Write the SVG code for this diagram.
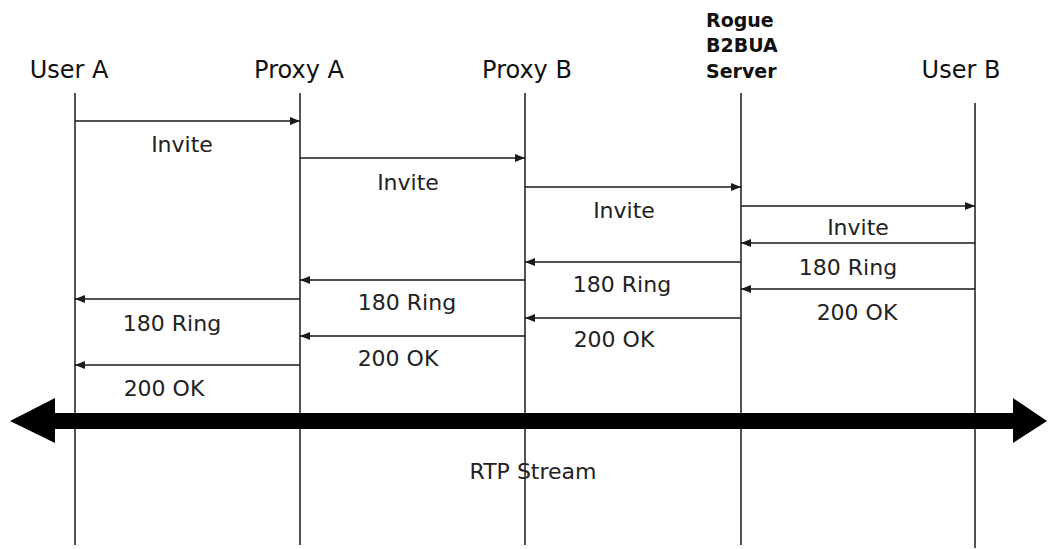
<svg xmlns="http://www.w3.org/2000/svg" width="1048" height="549" viewBox="0 0 1048 549">
  <style>
    .life { stroke: #1a1a1a; stroke-width: 1.5; fill: none; }
    .msg { stroke: #1a1a1a; stroke-width: 1.5; fill: none; marker-end: url(#ah); }
    .hdr { font-family: "DejaVu Sans", sans-serif; font-size: 24px; fill: #111; text-anchor: middle; }
    .bold { font-family: "DejaVu Sans", sans-serif; font-size: 19px; font-weight: bold; fill: #111; }
    .lbl { font-family: "DejaVu Sans", sans-serif; font-size: 22px; fill: #222; text-anchor: middle; }
  </style>
  <defs>
    <marker id="ah" markerUnits="userSpaceOnUse" markerWidth="10" markerHeight="8" refX="10" refY="4" orient="auto">
      <path d="M0,0 L10,4 L0,8 z" fill="#1a1a1a"/>
    </marker>
  </defs>
  <rect width="1048" height="549" fill="#ffffff"/>

  <g id="userA">
    <text class="hdr" x="69" y="78">User A</text>
    <line class="life" x1="75" y1="93" x2="75" y2="545"/>
  </g>
  <g id="proxyA">
    <text class="hdr" x="299" y="78">Proxy A</text>
    <line class="life" x1="300" y1="93" x2="300" y2="545"/>
  </g>
  <g id="proxyB">
    <text class="hdr" x="527" y="78">Proxy B</text>
    <line class="life" x1="525" y1="93" x2="525" y2="545"/>
  </g>
  <g id="rogue">
    <text class="bold" x="706" y="27">Rogue</text>
    <text class="bold" x="706" y="52">B2BUA</text>
    <text class="bold" x="706" y="78">Server</text>
    <line class="life" x1="741" y1="93" x2="741" y2="545"/>
  </g>
  <g id="userB">
    <text class="hdr" x="961" y="78">User B</text>
    <line class="life" x1="975" y1="103" x2="975" y2="548"/>
  </g>

  <g id="connectors">
    <line class="msg" x1="75" y1="121" x2="300" y2="121"/>
    <line class="msg" x1="300" y1="158" x2="525" y2="158"/>
    <line class="msg" x1="525" y1="187" x2="741" y2="187"/>
    <line class="msg" x1="741" y1="206" x2="975" y2="206"/>
    <line class="msg" x1="975" y1="243" x2="741" y2="243"/>
    <line class="msg" x1="741" y1="262" x2="525" y2="262"/>
    <line class="msg" x1="975" y1="289" x2="741" y2="289"/>
    <line class="msg" x1="525" y1="280" x2="300" y2="280"/>
    <line class="msg" x1="300" y1="299" x2="75" y2="299"/>
    <line class="msg" x1="741" y1="318" x2="525" y2="318"/>
    <line class="msg" x1="525" y1="336" x2="300" y2="336"/>
    <line class="msg" x1="300" y1="365" x2="75" y2="365"/>
  </g>

  <g id="labels">
    <text class="lbl" x="182" y="152">Invite</text>
    <text class="lbl" x="408" y="190">Invite</text>
    <text class="lbl" x="624" y="218">Invite</text>
    <text class="lbl" x="858" y="235">Invite</text>
    <text class="lbl" x="848" y="275">180 Ring</text>
    <text class="lbl" x="622" y="292">180 Ring</text>
    <text class="lbl" x="857" y="320">200 OK</text>
    <text class="lbl" x="407" y="310">180 Ring</text>
    <text class="lbl" x="172" y="331">180 Ring</text>
    <text class="lbl" x="614" y="347">200 OK</text>
    <text class="lbl" x="398" y="366">200 OK</text>
    <text class="lbl" x="164" y="396">200 OK</text>
  </g>

  <g id="rtp">
    <path d="M10,421 L55,398 L55,413 L1013,413 L1013,398 L1047,421 L1013,443 L1013,429 L55,429 L55,443 Z" fill="#000"/>
    <text class="lbl" x="533" y="479" fill="#333">RTP Stream</text>
  </g>
</svg>
